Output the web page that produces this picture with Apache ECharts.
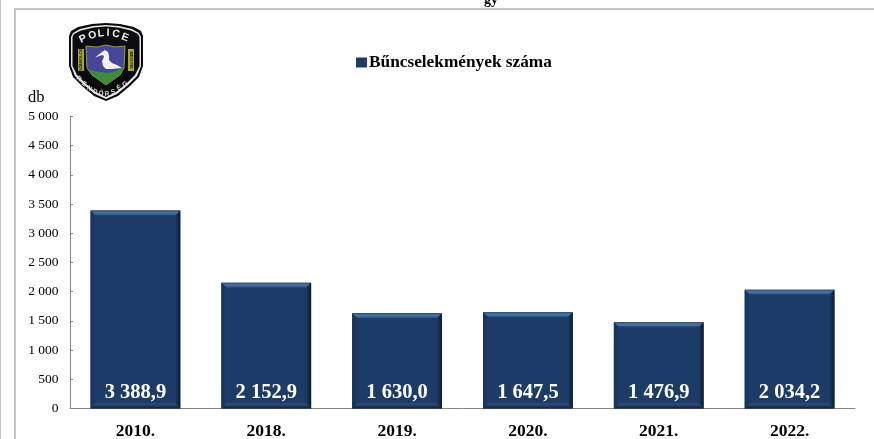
<!DOCTYPE html>
<html><head><meta charset="utf-8">
<style>html,body{margin:0;padding:0;background:#fff}#c{width:874px;height:439px}</style>
<script src="https://cdn.jsdelivr.net/npm/echarts@6/dist/echarts.min.js"></script>
</head><body><div id="c"></div>
<script>
const categories = ['2010.', '2018.', '2019.', '2020.', '2021.', '2022.'];
const crimes = [3388.9, 2152.9, 1630.0, 1647.5, 1476.9, 2034.2];
const seriesName = 'Bűncselekmények száma';
const unit = 'db';
const FONT = '"Liberation Serif","Times New Roman",serif';
const fmtTick = v => String(v).replace(/\B(?=(\d{3})+$)/g, ' ');
const fmtVal = v => { const p = v.toFixed(1).split('.'); return fmtTick(p[0]) + ',' + p[1]; };
const chart = echarts.init(document.getElementById('c'), null, {renderer: 'canvas'});

function bevel(params, api) {
  const top = api.coord([api.value(0), api.value(1)]);
  const base = api.coord([api.value(0), 0]);
  const w = api.size([1, 0])[0] * 0.686;
  const l = top[0] - w / 2, r = top[0] + w / 2, t = top[1], b = base[1], d = 5;
  const poly = (pts, fill) => ({type: 'polygon', shape: {points: pts}, style: {fill}, silent: true});
  return {type: 'group', children: [
    poly([[l, t], [r, t], [r - d, t + d], [l + d, t + d]], new echarts.graphic.LinearGradient(0, 0, 0, 1, [
      {offset: 0, color: '#2a4a70'}, {offset: .45, color: '#4f77a3'}, {offset: 1, color: '#214a78'}])),
    poly([[l, t], [l + d, t + d], [l + d, b - d], [l, b]], new echarts.graphic.LinearGradient(0, 0, 1, 0, [
      {offset: 0, color: '#14315a'}, {offset: 1, color: '#1c3c67'}])),
    poly([[r, t], [r - d, t + d], [r - d, b - d], [r, b]], new echarts.graphic.LinearGradient(1, 0, 0, 0, [
      {offset: 0, color: '#0a1a30'}, {offset: 1, color: '#1c3c67'}])),
    poly([[l, b], [l + d, b - d], [r - d, b - d], [r, b]], new echarts.graphic.LinearGradient(0, 1, 0, 0, [
      {offset: 0, color: '#101f38'}, {offset: 1, color: '#2f5583'}]))
  ]};
}

const letter = (ch, x, y, rot, size, fill) => ({type: 'text', x, y, rotation: rot * Math.PI / 180, silent: true, z: 10,
  style: {text: ch, fill, font: `bold ${size}px "Liberation Sans",sans-serif`, align: 'center', verticalAlign: 'middle'}});
const logoPoly = (points, fill, stroke) => ({type: 'polygon', shape: {points}, silent: true, z: 9,
  style: stroke ? {fill, stroke, lineWidth: 1} : {fill}});
const shield = [[106,23],[120,24],[134,27],[141,31],[143,36],[143,66],[139,77],[130,86],[118,96],[106,101],[94,96],[82,86],[73,77],[69,66],[69,36],[71,31],[78,27],[92,24]];
const ring = [[106,25],[119,26],[132,29],[139,33],[141,37],[141,66],[137,76],[128,85],[117,94],[106,99],[95,94],[84,85],[75,76],[71,66],[71,37],[73,33],[80,29],[93,26]];
const inner = [[106,26.5],[118,27.5],[131,30.5],[138,34],[139.5,37],[139.5,66],[135,75],[126,84],[116,92],[106,97],[96,92],[86,84],[77,75],[72.5,66],[72.5,37],[74,34],[81,30.5],[94,27.5]];
const crest = [[86,46],[97,47],[106,45],[115,47],[125,46],[124,68],[120,75],[113,80],[106,85],[99,80],[92,75],[87,68]];
const green = [[89,70],[99,72],[108,73],[116,71],[123,67],[120,75],[113,80],[106,85],[99,80],[92,75]];
const stork = [[102,52],[105,50],[108,52],[109,56],[109,60],[112,63],[117,65],[122,68],[112,69],[106,69],[103,66],[102,61],[104,57],[103,55],[99,56],[95,58],[98,55]];
const leftBand = [[78,49],[84,49],[84,71],[78,71]];
const rightBand = [[128,49],[134,49],[134,71],[128,71]];
const badgeTop = 'POLICE'.split('');
const badgeBottom = 'RENDŐRSÉG'.split('');
const topPos = [[83,39,25],[92.5,35.5,15],[101,33.5,6],[108,33,-2],[116,34,-10],[125,37.5,-20]];
const botPos = [[79,79,-40],[84,84,-35],[89.5,88.5,-28],[95,91.5,-20],[101,93.5,-8],[107,94,4],[113,92,16],[119,88,28],[125,84,36]];

chart.setOption({
  animation: false,
  backgroundColor: '#ffffff',
  grid: {left: 70, right: 19, top: 116.5, bottom: 30.5, containLabel: false, outerBoundsMode: 'none'},
  legend: {
    show: true, left: 351, top: 49, itemWidth: 11, itemHeight: 10, itemGap: 0, icon: 'rect',
    textStyle: {fontFamily: FONT, fontWeight: 'bold', fontSize: 17.3, color: '#000', padding: [0, 0, 0, -3]},
    data: [{name: seriesName, itemStyle: {color: '#1c3c67'}}]
  },
  xAxis: {
    type: 'category', data: categories,
    axisLine: {lineStyle: {color: '#868686', width: 1}},
    axisTick: {show: false},
    axisLabel: {fontFamily: FONT, fontWeight: 'bold', fontSize: 17.5, color: '#000', margin: 14}
  },
  yAxis: {
    type: 'value', min: 0, max: 5000, interval: 500,
    name: unit, nameLocation: 'end', nameGap: 0,
    nameTextStyle: {fontFamily: FONT, fontSize: 16.5, color: '#000', align: 'left', padding: [0, 0, 10, -42]},
    axisLine: {show: true, lineStyle: {color: '#868686', width: 1}},
    axisTick: {show: true, length: 3, inside: true, lineStyle: {color: '#868686'}},
    splitLine: {show: false},
    axisLabel: {fontFamily: FONT, fontSize: 13.5, color: '#000', margin: 11.5, formatter: fmtTick}
  },
  series: [
    {
      name: seriesName, type: 'bar', data: crimes, barWidth: '68.6%',
      itemStyle: {color: '#1c3c67'},
      z: 2,
      label: {show: true, position: 'insideBottom', distance: 5.5, formatter: p => fmtVal(p.value),
        fontFamily: FONT, fontWeight: 'bold', fontSize: 20.5, color: '#fff'}
    },
    {
      type: 'custom', name: 'bevel', data: categories.map((c, i) => [i, crimes[i]]),
      encode: {x: 0, y: 1}, renderItem: bevel, silent: true, z: 3, tooltip: {show: false}
    }
  ],
  graphic: [
    {type: 'rect', shape: {x: 0, y: 0, width: 1, height: 439}, style: {fill: '#c4c4c4'}, silent: true},
    {type: 'rect', shape: {x: 15, y: 8, width: 859, height: 2}, style: {fill: '#c4c4c4'}, silent: true},
    {type: 'rect', shape: {x: 14, y: 8, width: 2, height: 431}, style: {fill: '#c4c4c4'}, silent: true},
    {type: 'text', x: 491, y: -7, silent: true, style: {text: 'gy', fill: '#000', font: `bold 14px ${FONT}`, align: 'center', verticalAlign: 'top'}},
    logoPoly(shield, '#0a0a0c'), logoPoly(ring, '#e8e8e8'), logoPoly(inner, '#0c0c10'),
    logoPoly(crest, '#46479a', '#9a9a30'), logoPoly(green, '#3f8a3c'), logoPoly(stork, '#f2f2f2'),
    logoPoly(leftBand, '#a8a82a'), logoPoly(rightBand, '#a8a82a'),
    ...badgeTop.map((c, i) => letter(c, topPos[i][0], topPos[i][1], topPos[i][2], 10.5, '#eee')),
    ...badgeBottom.map((c, i) => letter(c, botPos[i][0], botPos[i][1], botPos[i][2], 6.5, '#ddd')),
    letter('SZABOLCS', 81, 60, 90, 4, '#111'), letter('MEGYEI', 131, 60, -90, 4.4, '#111')
  ]
});
</script></body></html>
